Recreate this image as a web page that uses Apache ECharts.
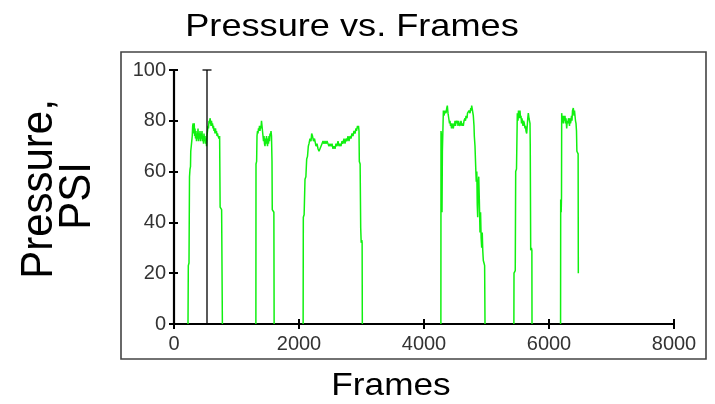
<!DOCTYPE html>
<html>
<head>
<meta charset="utf-8">
<script src="https://cdn.jsdelivr.net/npm/echarts@6/dist/echarts.min.js"></script>
<style>
  html, body { margin: 0; padding: 0; background: #fff; }
  #chart { width: 715px; height: 404px; }
</style>
</head>
<body>
<div id="chart"></div>
<script>
// Pressure readings per recording run: [frame, psi]
const run1 = [[224,0],[229,23],[240,24],[246,24],[248,58],[256,61],[264,62],[268,68],[276,70],[284,72],[292,74],[299,78],[306,79],[312,77],[318,75],[324,79],[330,74],[336,77],[344,73],[352,76],[360,72],[368,75],[376,73],[384,77],[392,72],[400,75],[408,73],[416,76],[424,72],[432,75],[440,73],[448,76],[456,72],[464,74],[472,71],[480,75],[488,72],[496,74],[504,71],[512,73],[520,70],[528,74],[536,76],[544,78],[552,77],[560,80],[568,79],[576,81],[584,80],[592,78],[600,80],[608,78],[616,79],[624,77],[632,78],[640,76],[648,77],[656,75],[664,77],[672,75],[680,76],[688,74],[696,75],[704,74],[712,74],[722,73],[730,74],[738,46],[750,46],[762,45],[772,45],[774,0]];
const run2 = [[1310,0],[1312,63],[1322,64],[1328,74],[1336,76],[1344,75],[1352,77],[1360,76],[1368,78],[1376,76],[1384,78],[1392,77],[1400,80],[1408,78],[1416,76],[1424,74],[1432,72],[1440,74],[1448,71],[1456,70],[1464,73],[1472,71],[1480,74],[1488,72],[1496,70],[1504,73],[1512,71],[1520,74],[1528,72],[1536,75],[1544,74],[1552,76],[1560,74],[1568,64],[1572,45],[1590,45],[1598,44],[1602,0]];
const run3 = [[2066,0],[2069,42],[2082,43],[2096,57],[2110,58],[2123,65],[2136,66],[2149,70],[2160,71],[2176,73],[2192,72],[2203,75],[2216,74],[2232,72],[2248,73],[2256,72],[2272,70],[2288,71],[2304,69],[2320,68],[2336,69],[2352,70],[2368,71],[2384,72],[2400,71],[2416,72],[2432,71],[2448,72],[2464,71],[2480,70],[2496,71],[2512,70],[2528,71],[2544,69],[2560,70],[2576,69],[2592,71],[2608,70],[2624,72],[2640,70],[2656,71],[2672,70],[2688,72],[2704,71],[2720,73],[2736,71],[2752,73],[2768,72],[2784,74],[2800,72],[2816,74],[2832,73],[2848,75],[2864,74],[2880,76],[2896,75],[2912,77],[2920,76],[2936,78],[2944,77],[2952,78],[2960,76],[2965,64],[2978,63],[2987,38],[2995,32],[3005,33],[3010,32],[3013,0]];
const run4 = [[4270,0],[4272,76],[4280,74],[4288,44],[4294,68],[4304,68],[4310,84],[4320,82],[4336,84],[4352,83],[4364,85],[4373,86],[4384,83],[4396,81],[4408,79],[4416,80],[4424,78],[4432,79],[4440,77],[4448,79],[4456,78],[4469,77],[4480,79],[4488,78],[4496,80],[4504,78],[4512,80],[4523,79],[4536,80],[4544,78],[4552,80],[4560,79],[4576,78],[4592,80],[4608,78],[4616,79],[4629,78],[4640,80],[4656,81],[4664,80],[4672,82],[4688,81],[4696,83],[4709,83],[4720,84],[4736,83],[4748,85],[4756,84],[4763,86],[4776,84],[4789,82],[4800,78],[4805,74],[4816,70],[4827,62],[4836,56],[4845,60],[4852,47],[4859,42],[4866,55],[4876,58],[4886,48],[4896,36],[4905,44],[4914,34],[4923,30],[4932,36],[4940,29],[4949,25],[4960,24],[4970,23],[4976,0]];
const run5 = [[5438,0],[5440,20],[5460,21],[5467,60],[5480,61],[5493,83],[5504,80],[5512,84],[5520,81],[5528,83],[5536,84],[5544,81],[5552,82],[5560,79],[5568,81],[5573,80],[5584,78],[5592,80],[5605,79],[5616,77],[5624,78],[5632,76],[5643,75],[5652,78],[5660,81],[5669,83],[5680,81],[5688,80],[5696,79],[5700,70],[5707,29],[5718,30],[5726,29],[5728,0]];
const run6 = [[6185,0],[6187,49],[6195,44],[6200,50],[6203,83],[6212,80],[6220,82],[6229,79],[6240,82],[6248,80],[6256,82],[6264,79],[6272,81],[6283,77],[6292,80],[6304,79],[6312,81],[6320,80],[6328,78],[6336,81],[6344,79],[6352,80],[6360,82],[6368,80],[6376,84],[6389,85],[6400,82],[6408,84],[6416,82],[6424,80],[6432,79],[6440,76],[6446,68],[6466,67],[6469,20]];

// Vertical marker at the reference frame, drawn 0..100 psi
const markerFrame = 528;
const markerRange = [0, 100];

// Axis settings
const xTicks = [0, 2000, 4000, 6000, 8000];
const yTicks = [0, 20, 40, 60, 80, 100];

const FONT = "'Liberation Sans', Arial, sans-serif";
const runs = [run1, run2, run3, run4, run5, run6];

const chart = echarts.init(document.getElementById('chart'), null, { renderer: 'canvas' });

const baseX = {
  type: 'value', min: xTicks[0], max: xTicks[xTicks.length - 1],
  interval: xTicks[1] - xTicks[0], position: 'bottom', splitLine: { show: false }
};
const baseY = {
  type: 'value', min: yTicks[0], max: yTicks[yTicks.length - 1],
  interval: yTicks[1] - yTicks[0], position: 'left', splitLine: { show: false }
};

const series = runs.map(r => ({
  type: 'line', data: r, showSymbol: false, symbol: 'none',
  xAxisIndex: 0, yAxisIndex: 0,
  lineStyle: { color: '#10f010', width: 1.5 }, silent: true, z: 2
}));
series.push({
  type: 'line', data: [[markerFrame, markerRange[0]], [markerFrame, markerRange[1]]],
  symbol: 'none', xAxisIndex: 0, yAxisIndex: 0,
  lineStyle: { color: '#000', width: 1.3 }, z: 3
});
series.push({
  type: 'scatter', data: [[markerFrame, markerRange[1]]],
  symbol: 'rect', symbolSize: [9, 1.6], xAxisIndex: 0, yAxisIndex: 0,
  itemStyle: { color: '#000' }, z: 3
});

chart.setOption({
  animation: false,
  backgroundColor: '#fff',
  grid: { left: 174, right: 41, top: 70, bottom: 80, containLabel: false },
  xAxis: [
    Object.assign({}, baseX, {
      axisLine: { onZero: false, lineStyle: { color: '#000', width: 2.2 } },
      axisTick: { inside: false, length: 5, lineStyle: { color: '#000', width: 2 } },
      axisLabel: { color: '#333', fontFamily: FONT, fontSize: 20, margin: 10,
                   formatter: v => String(v) }
    }),
    Object.assign({}, baseX, {
      axisLine: { show: false, onZero: false },
      axisTick: { inside: true, length: 5, lineStyle: { color: '#000', width: 2 } },
      axisLabel: { show: false }
    })
  ],
  yAxis: [
    Object.assign({}, baseY, {
      axisLine: { onZero: false, lineStyle: { color: '#000', width: 2.2 } },
      axisTick: { inside: false, length: 5, lineStyle: { color: '#000', width: 2 } },
      axisLabel: { color: '#333', fontFamily: FONT, fontSize: 20, margin: 8,
                   formatter: v => String(v) }
    }),
    Object.assign({}, baseY, {
      axisLine: { show: false, onZero: false },
      axisTick: { inside: true, length: 4, lineStyle: { color: '#000', width: 2 } },
      axisLabel: { show: false }
    })
  ],
  graphic: [
    {
      type: 'rect', shape: { x: 121, y: 52, width: 585, height: 307 },
      style: { fill: 'none', stroke: '#444', lineWidth: 1.6 }, z: 0, silent: true
    },
    {
      type: 'text', x: 352, y: 27, scaleX: 1.13,
      style: { text: 'Pressure vs. Frames', font: '32px ' + FONT, fill: '#000',
               textAlign: 'center', textVerticalAlign: 'middle' }
    },
    {
      type: 'text', x: 391, y: 386, scaleX: 1.1,
      style: { text: 'Frames', font: '32px ' + FONT, fill: '#000',
               textAlign: 'center', textVerticalAlign: 'middle' }
    },
    {
      type: 'text', x: 40, y: 189, rotation: Math.PI / 2, scaleY: 1.05,
      style: { text: 'Pressure,', font: '42px ' + FONT, fill: '#000',
               textAlign: 'center', textVerticalAlign: 'middle' }
    },
    {
      type: 'text', x: 78, y: 196, rotation: Math.PI / 2, scaleY: 1.05,
      style: { text: 'PSI', font: '42px ' + FONT, fill: '#000',
               textAlign: 'center', textVerticalAlign: 'middle' }
    }
  ],
  series: series
});
</script>
</body>
</html>
